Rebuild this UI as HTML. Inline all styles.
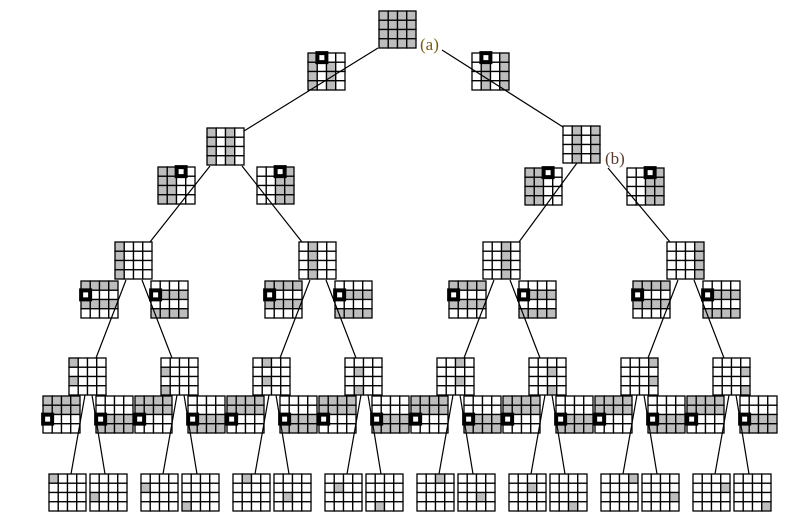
<!DOCTYPE html>
<html><head><meta charset="utf-8"><style>
html,body{margin:0;padding:0;background:#fff;width:793px;height:514px;overflow:hidden}
</style></head><body>
<svg id="s" width="793" height="514" xmlns="http://www.w3.org/2000/svg"></svg>
<script>
var out=[];var C=9.25;
function grid(x,y,rows,mk){
  for(var r=0;r<4;r++)for(var c=0;c<4;c++){
    var f=rows[r][c]=='g'?'#bdbdbd':'#fff';
    out.push('<rect x="'+(x+c*C)+'" y="'+(y+r*C)+'" width="'+C+'" height="'+C+'" fill="'+f+'" stroke="#000" stroke-width="1.3"/>');
  }
  if(mk){var cx=x+mk[0]*C+C/2,cy=y+mk[1]*C+C/2;
    out.push('<rect x="'+(cx-4.5)+'" y="'+(cy-4.5)+'" width="9" height="9" fill="#fff" stroke="#000" stroke-width="4"/>');}
}
function line(a,b,c,d){lines.push('<line x1="'+a+'" y1="'+b+'" x2="'+c+'" y2="'+d+'" stroke="#000" stroke-width="1.2"/>');}
var lines=[];
function col(k){var r=[];for(var i=0;i<4;i++){var s='';for(var c=0;c<4;c++)s+=c==k?'g':'.';r.push(s);}return r;}
function cell(c0,r0){var r=[];for(var i=0;i<4;i++){var s='';for(var c=0;c<4;c++)s+=(c==c0&&i==r0)?'g':'.';r.push(s);}return r;}
grid(379,11,['gggg','gggg','gggg','gggg']);
grid(308,53,['g...','g.g.','g.g.','g.g.'],[1,0]);
grid(472,53,['...g','.g.g','.g.g','.g.g'],[1,0]);
line(378,48,244,131);line(442,50,563,127);
grid(207,128,['g.g.','g.g.','g.g.','g.g.']);
grid(563,126,['.g.g','.g.g','.g.g','.g.g']);
var L2cL=['gg..','gg..','gg..','gg..'],L2cR=['...g','..gg','..gg','..gg'];
grid(158,167,L2cL,[2,0]);grid(257,167,L2cR,[2,0]);
grid(525,168,L2cL,[2,0]);grid(627,168,L2cR,[2,0]);
line(210,166,150,242);line(242,166,302,242);
line(577,163,519,242);line(608,168,670,242);
var L3=[115,299,483,667];
var L3cL=['gggg','....','gggg','....'],L3cR=['....','.ggg','....','gggg'];
var L4cL=['gggg','gggg','....','....'],L4cR=['....','....','.ggg','gggg'];
L3.forEach(function(X,k){
  grid(X,242,col(k));
  grid(X-34,281,L3cL,[0,1]);grid(X+36,281,L3cR,[0,1]);
  line(X+11,280,X-46+27,358);line(X+27,280,X+46+11,358);
  [X-46,X+46].forEach(function(Y,h){
    var rows=[];for(var i=0;i<4;i++){var s='';for(var c=0;c<4;c++)s+=(c==k&&(i%2==h))?'g':'.';rows.push(s);}
    grid(Y,358,rows);
    grid(Y-26,396,L4cL,[0,2]);grid(Y+27,396,L4cR,[0,2]);
    grid(Y-20,474,cell(k,h));grid(Y+21,474,cell(k,h+2));
    line(Y+16,395,Y+2,474);line(Y+23,395,Y+36,474);
  });
});
document.getElementById('s').innerHTML=out.join('')+lines.join('')+
'<text x="420" y="50" font-family="Liberation Serif, serif" font-size="17" fill="#7a5a10">(a)</text>'+
'<text x="605" y="164" font-family="Liberation Serif, serif" font-size="17" fill="#5a3a30">(b)</text>';
</script>
</body></html>
